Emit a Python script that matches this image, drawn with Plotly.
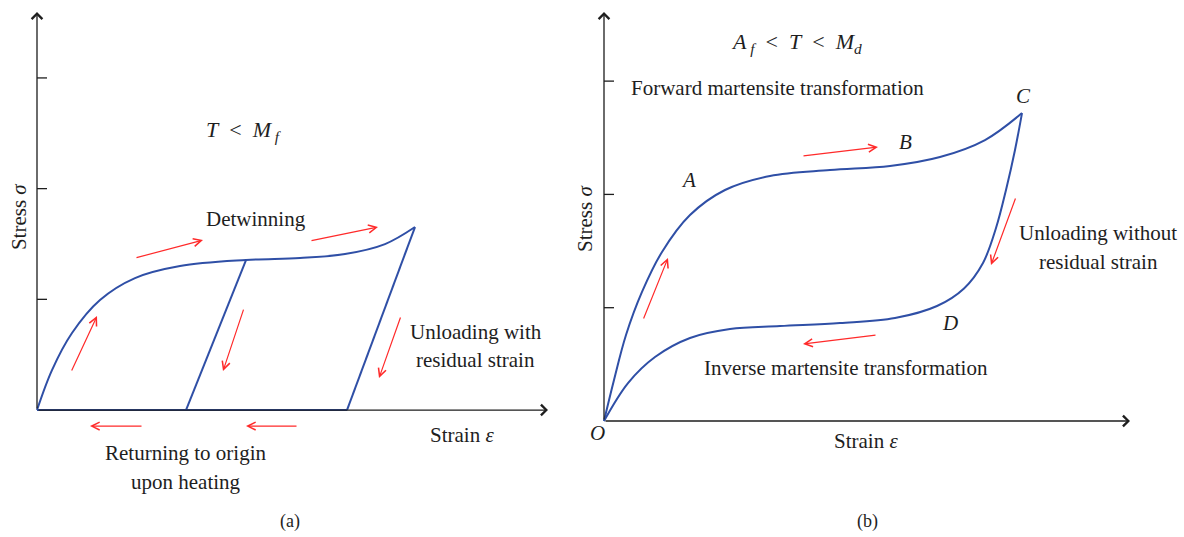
import plotly.graph_objects as go

# ---------------- Panel (a): T < Mf ----------------
a_load_strain = [0, 0.15, 0.35, 0.63, 0.98, 1.43, 2.09, 2.63, 3.08, 3.48, 3.78]
a_load_stress = [0, 0.361, 0.696, 0.994, 1.192, 1.301, 1.355, 1.373, 1.409, 1.499, 1.653]
a_unload_outer_strain = [3.78, 3.10]
a_unload_outer_stress = [1.653, 0]
a_unload_inner_strain = [2.09, 1.49]
a_unload_inner_stress = [1.355, 0]
a_base_strain = [0, 3.10]
a_base_stress = [0, 0]
a_yticks = [1, 2, 3]
a_axis_tip = (5.11, 3.595)
# red arrows: (tail strain, tail stress, head strain, head stress)
a_arrows = [
    (0.98, 1.373, 1.66, 1.536),
    (2.73, 1.527, 3.41, 1.653),
    (0.34, 0.343, 0.60, 0.849),
    (2.07, 0.921, 1.86, 0.352),
    (3.64, 0.849, 3.42, 0.289),
    (1.06, -0.145, 0.53, -0.145),
    (2.61, -0.145, 2.09, -0.145),
]

# ---------------- Panel (b): Af < T < Md ----------------
b_load_strain = [0, 0.10, 0.22, 0.38, 0.58, 0.86, 1.21, 1.66, 2.26, 2.86, 3.36, 3.81, 4.18]
b_load_stress = [0, 0.362, 0.759, 1.139, 1.492, 1.818, 2.039, 2.163, 2.215, 2.251, 2.330, 2.480, 2.718]
b_unload_strain = [4.18, 4.11, 4.02, 3.92, 3.79, 3.60, 3.33, 2.91, 2.36, 1.76, 1.26, 0.86, 0.51, 0.24, 0]
b_unload_stress = [2.718, 2.392, 2.039, 1.703, 1.395, 1.170, 1.015, 0.909, 0.865, 0.838, 0.812, 0.733, 0.565, 0.335, 0]
b_yticks = [1, 2, 3]
b_axis_tip = (5.26, 3.61)
b_arrows = [
    (0.39, 0.891, 0.64, 1.439),
    (1.98, 2.339, 2.74, 2.418),
    (4.12, 1.977, 3.87, 1.377),
    (2.73, 0.759, 1.99, 0.680),
]

BLUE = "#2f4fa6"
RED = "#ff2a2a"
INK = "#1e1e1e"
FONT = "Liberation Serif"
FS = 21

fig = go.Figure()

def curve(x, y, xa, ya, spline=True):
    fig.add_trace(go.Scatter(
        x=x, y=y, xaxis=xa, yaxis=ya, mode="lines",
        line=dict(color=BLUE, width=2, shape="spline" if spline else "linear", smoothing=1.0),
        hoverinfo="skip", showlegend=False))

annotations = []
shapes = []

def axes(xr, yr, tip, yticks):
    tx, ty = tip
    for (hx, hy) in [(tx, 0), (0, ty)]:
        annotations.append(dict(
            x=hx, y=hy, ax=0, ay=0, xref=xr, yref=yr, axref=xr, ayref=yr,
            text="", showarrow=True, arrowhead=4, arrowsize=1.6, arrowwidth=1.3,
            arrowcolor=INK, standoff=0, startstandoff=0))
    for t in yticks:
        shapes.append(dict(type="line", xref=xr, yref=yr, x0=0, x1=0.10, y0=t, y1=t,
                           line=dict(color=INK, width=1.3)))

axes("x", "y", a_axis_tip, a_yticks)
axes("x2", "y2", b_axis_tip, b_yticks)

curve(a_load_strain, a_load_stress, "x", "y")
curve(a_unload_outer_strain, a_unload_outer_stress, "x", "y", False)
curve(a_unload_inner_strain, a_unload_inner_stress, "x", "y", False)
curve(a_base_strain, a_base_stress, "x", "y", False)
curve(b_load_strain, b_load_stress, "x2", "y2")
curve(b_unload_strain, b_unload_stress, "x2", "y2")

def red_arrows(arrs, xr, yr):
    for (x0, y0, x1, y1) in arrs:
        annotations.append(dict(
            x=x1, y=y1, ax=x0, ay=y0, xref=xr, yref=yr, axref=xr, ayref=yr,
            text="", showarrow=True, arrowhead=5, arrowsize=1.3, arrowwidth=1.2,
            arrowcolor=RED, standoff=0, startstandoff=0))

red_arrows(a_arrows, "x", "y")
red_arrows(b_arrows, "x2", "y2")

def label(text, x, y, xr, yr, size=FS, angle=0):
    annotations.append(dict(
        text=text, x=x, y=y, xref=xr, yref=yr, showarrow=False,
        xanchor="center", yanchor="middle", textangle=angle,
        font=dict(family=FONT, size=size, color=INK)))

# panel (a) labels
label("<i>T</i>  &lt;  <i>M</i><sub> <i>f</i></sub>", 2.07, 2.52, "x", "y", size=22)
label("Detwinning", 2.19, 1.725, "x", "y")
label("Unloading with", 4.39, 0.705, "x", "y")
label("residual strain", 4.38, 0.452, "x", "y")
label("Strain <i>ε</i>", 4.25, -0.226, "x", "y")
label("Returning to origin", 1.48, -0.388, "x", "y")
label("upon heating", 1.49, -0.650, "x", "y")
label("(a)", 2.53, -1.003, "x", "y", size=18)
label("Stress <i>σ</i>", -0.18, 1.743, "x", "y", angle=-90)

# panel (b) labels
label("<i>A</i><sub> <i>f</i></sub>  &lt;  <i>T</i>  &lt;  <i>M</i><sub><i>d</i></sub>", 1.92, 3.336, "x2", "y2", size=22)
label("Forward martensite transformation", 1.73, 2.939, "x2", "y2")
label("<i>A</i>", 0.84, 2.127, "x2", "y2")
label("<i>B</i>", 3.01, 2.462, "x2", "y2")
label("<i>C</i>", 4.19, 2.868, "x2", "y2")
label("<i>D</i>", 3.46, 0.865, "x2", "y2")
label("<i>O</i>", -0.07, -0.106, "x2", "y2")
label("Unloading without", 4.94, 1.659, "x2", "y2")
label("residual strain", 4.94, 1.403, "x2", "y2")
label("Inverse martensite transformation", 2.42, 0.468, "x2", "y2")
label("Strain <i>ε</i>", 2.62, -0.177, "x2", "y2")
label("(b)", 2.63, -0.891, "x2", "y2", size=18)
label("Stress <i>σ</i>", -0.19, 1.783, "x2", "y2", angle=-90)

hidden = dict(visible=False, showgrid=False, zeroline=False, fixedrange=True)
fig.update_layout(
    width=1184, height=537,
    margin=dict(l=0, r=0, t=0, b=0),
    paper_bgcolor="white", plot_bgcolor="white",
    xaxis=dict(domain=[0, 1], range=[-0.37, 11.47], anchor="y", **hidden),
    yaxis=dict(domain=[0, 1], range=[-1.147, 3.704], anchor="x", **hidden),
    xaxis2=dict(domain=[0, 1], range=[-6.04, 5.80], anchor="y2", overlaying="x", **hidden),
    yaxis2=dict(domain=[0, 1], range=[-1.024, 3.716], anchor="x2", overlaying="y", **hidden),
    annotations=annotations, shapes=shapes,
    showlegend=False,
)

fig.write_html("out.html")
